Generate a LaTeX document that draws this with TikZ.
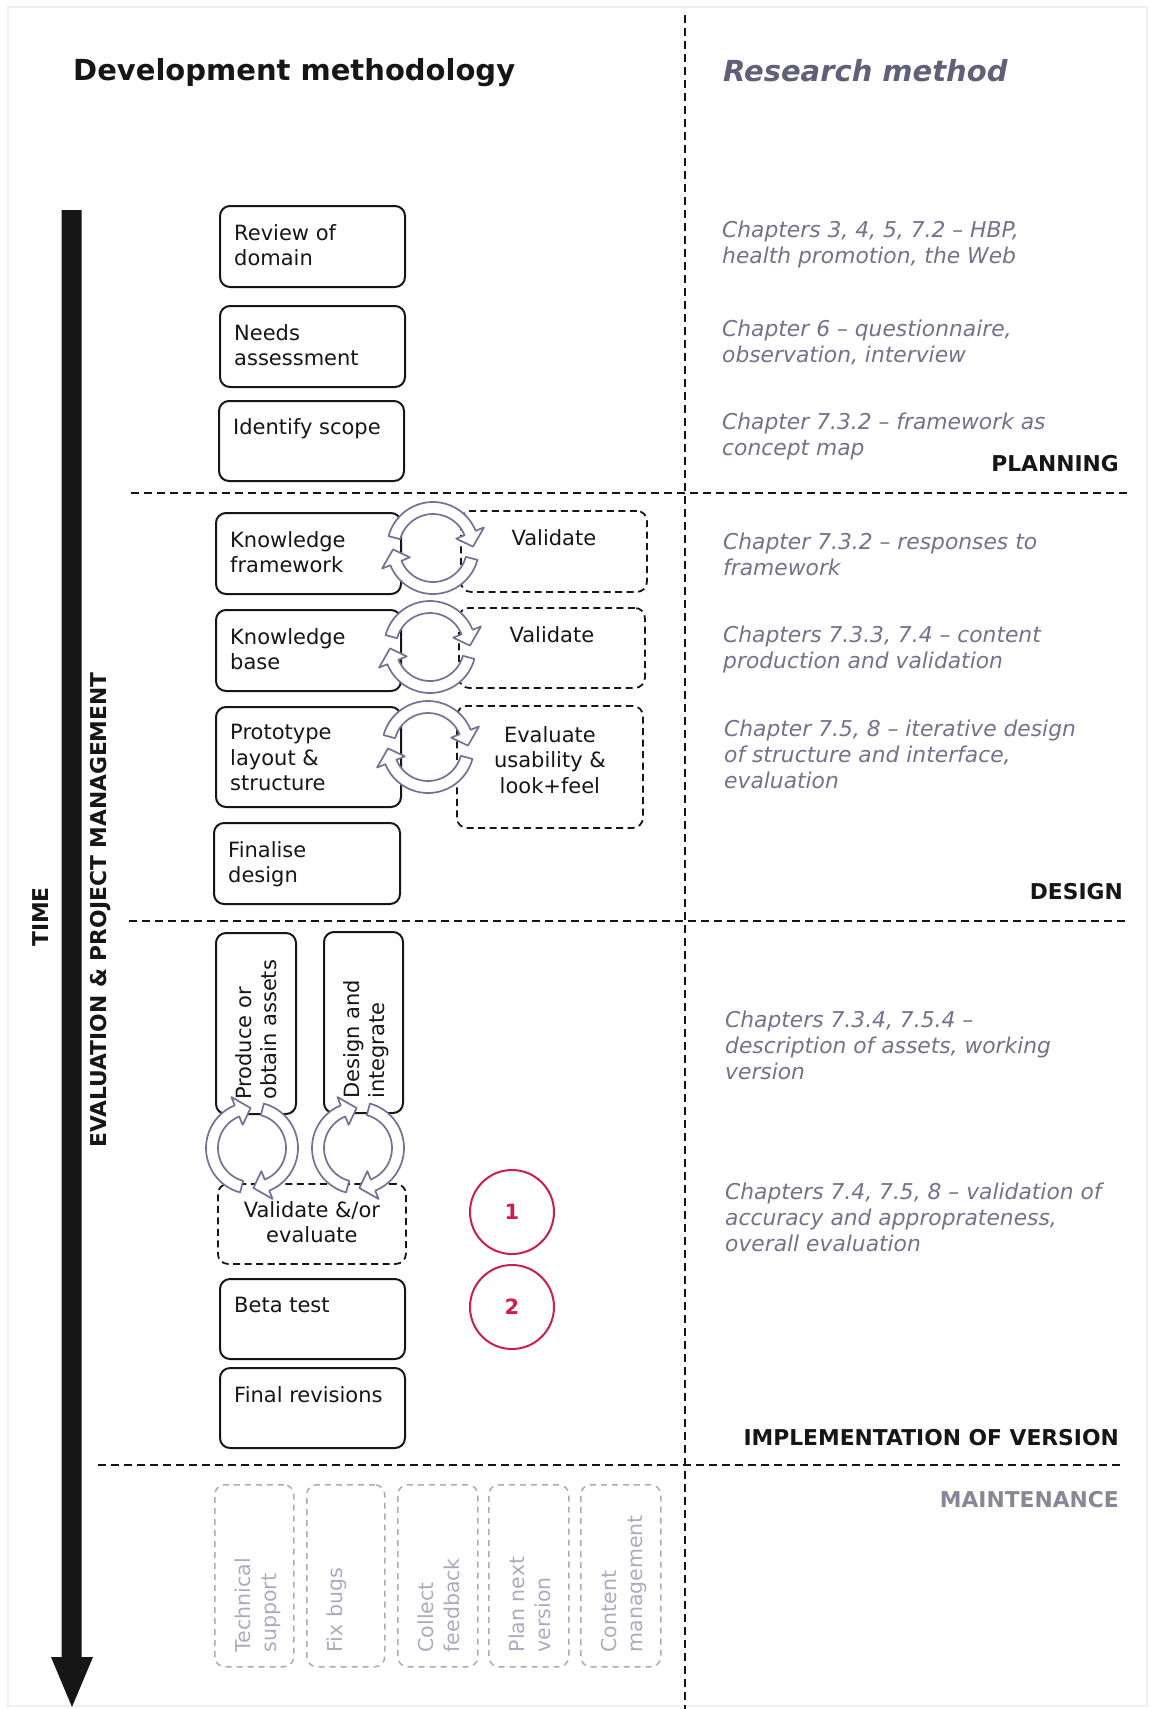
\documentclass[tikz,border=0pt]{standalone}
\usepackage{fontspec}
\setmainfont{DejaVu Sans}
\usetikzlibrary{calc}

\definecolor{ink}{RGB}{22,22,22}
\definecolor{chap}{RGB}{116,113,140}
\definecolor{rmhead}{RGB}{98,95,120}
\definecolor{loopc}{RGB}{118,112,150}
\definecolor{maint}{RGB}{172,170,190}
\definecolor{mainthead}{RGB}{135,135,150}
\definecolor{badgered}{RGB}{208,30,75}

\tikzset{
  heading/.style={inner sep=0pt, text=ink, font=\fontsize{29}{34}\selectfont\bfseries},
  phase/.style={inner sep=0pt, text=ink, font=\fontsize{21.8}{26}\selectfont\bfseries},
  sep/.style={draw=ink, line width=2pt, dash pattern=on 8pt off 5pt},
  stagebox/.style={draw=ink, line width=2pt, rounded corners=10pt, inner sep=0pt, anchor=north west},
  checkbox/.style={stagebox, line width=1.8pt, dash pattern=on 7pt off 4.5pt},
  maintbox/.style={draw=maint, line width=1.5pt, dash pattern=on 6pt off 5pt, rounded corners=10pt, inner sep=0pt, anchor=north west},
  boxtxt/.style={inner sep=0pt, text=ink, align=left, anchor=north west, font=\fontsize{21}{25.5}\selectfont},
  midtxt/.style={boxtxt, align=center, anchor=north},
  sidetxt/.style={boxtxt, rotate=90},
  mainttxt/.style={sidetxt, text=maint, font=\fontsize{20.5}{26}\selectfont},
  chaptxt/.style={inner sep=0pt, text=chap, align=left, anchor=north west, font=\fontsize{21.8}{26}\selectfont\itshape},
  badge/.style={circle, draw=badgered, line width=2pt, minimum size=84pt, inner sep=0pt, text=badgered, font=\fontsize{21}{25}\selectfont\bfseries},
  loopline/.style={draw=loopc, fill=white, line width=1.7pt, line join=round},
  loopicon/.pic={
    \filldraw[loopline] (165:46pt) arc[start angle=165, end angle=22, radius=46pt]
      -- (22:55pt) -- (2:40pt) -- (22:25pt) -- (22:34pt)
      arc[start angle=22, end angle=165, radius=34pt] -- cycle;
    \filldraw[loopline] (-15:46pt) arc[start angle=-15, end angle=-158, radius=46pt]
      -- (-158:55pt) -- (-178:40pt) -- (-158:25pt) -- (-158:34pt)
      arc[start angle=-158, end angle=-15, radius=34pt] -- cycle;
  }
}

\begin{document}
\begin{tikzpicture}[x=1pt, y=-1pt]
\useasboundingbox (0,0) rectangle (1150,1709);
\fill[white] (0,0) rectangle (1150,1709);
\draw[gray!12, line width=1.5pt] (8,7) rectangle (1147,1706);

% column headings
\node[heading, anchor=base west] (devtitle) at (73,80) {Development methodology};
\node[heading, anchor=base west, text=rmhead, font=\fontsize{29}{34}\selectfont\bfseries\itshape] (restitle) at (723,81) {Research method};

% column and phase separators
\draw[sep] (685,15) -- (685,1709);
\draw[sep] (131,493) -- (1128,493);
\draw[sep] (129,921) -- (1125,921);
\draw[sep] (98,1465) -- (1123,1465);

% time axis
\fill[ink] (61.5,210) -- (81.5,210) -- (81.5,1657) -- (93,1657) -- (72,1707) -- (51,1657) -- (61.5,1657) -- cycle;
\node[phase, rotate=90] (time) at (41,917) {TIME};
\node[phase, rotate=90] (evalpm) at (101,910) {EVALUATION \& PROJECT MANAGEMENT};

% phase names
\node[phase, anchor=base east] (planning) at (1119,471) {PLANNING};
\node[phase, anchor=base east] (design) at (1123,899) {DESIGN};
\node[phase, anchor=base east] (impl) at (1119,1445) {IMPLEMENTATION OF VERSION};
\node[phase, anchor=base east, text=mainthead] (maintlabel) at (1119,1507) {MAINTENANCE};

% planning
\node[stagebox, minimum width=185pt, minimum height=81pt] (rev) at (219,205) {};
\node[boxtxt] (rev-t) at ($(rev.north west)+(15,19)$) {Review of\\domain};
\node[stagebox, minimum width=185pt, minimum height=81pt] (need) at (219,305) {};
\node[boxtxt] (need-t) at ($(need.north west)+(15,19)$) {Needs\\assessment};
\node[stagebox, minimum width=185pt, minimum height=80pt] (scope) at (218,400) {};
\node[boxtxt] (scope-t) at ($(scope.north west)+(15,18)$) {Identify scope};

% design
\node[stagebox, minimum width=185pt, minimum height=81pt] (kf) at (215,512) {};
\node[boxtxt] (kf-t) at ($(kf.north west)+(15,19)$) {Knowledge\\framework};
\node[checkbox, minimum width=186pt, minimum height=81pt] (val1) at (460,510) {};
\node[midtxt] (val1-t) at ($(val1.north)+(0,19)$) {Validate};

\node[stagebox, minimum width=185pt, minimum height=81pt] (kb) at (215,609) {};
\node[boxtxt] (kb-t) at ($(kb.north west)+(15,19)$) {Knowledge\\base};
\node[checkbox, minimum width=186pt, minimum height=80pt] (val2) at (458,607) {};
\node[midtxt] (val2-t) at ($(val2.north)+(0,19)$) {Validate};

\node[stagebox, minimum width=185pt, minimum height=100pt] (proto) at (215,706) {};
\node[boxtxt] (proto-t) at ($(proto.north west)+(15,18)$) {Prototype\\layout \&\\structure};
\node[checkbox, minimum width=186pt, minimum height=122pt] (evalu) at (456,705) {};
\node[midtxt] (evalu-t) at ($(evalu.north)+(0,21)$) {Evaluate\\usability \&\\look+feel};

\node[stagebox, minimum width=186pt, minimum height=81pt] (fin) at (213,822) {};
\node[boxtxt] (fin-t) at ($(fin.north west)+(15,19)$) {Finalise\\design};

\pic at (433,548) {loopicon};
\pic at (430,647) {loopicon};
\pic at (428,747) {loopicon};

% implementation
\node[stagebox, minimum width=80pt, minimum height=181pt] (prod) at (215,932) {};
\node[sidetxt] (prod-t) at ($(prod.south west)+(20,-15)$) {Produce or\\obtain assets};
\node[stagebox, minimum width=79pt, minimum height=181pt] (desi) at (323,931) {};
\node[sidetxt] (desi-t) at ($(desi.south west)+(20,-15)$) {Design and\\integrate};
\node[checkbox, minimum width=188pt, minimum height=80pt] (valev) at (217,1183) {};
\node[midtxt] (valev-t) at ($(valev.north)+(0,18)$) {Validate \&/or\\evaluate};
\node[stagebox, minimum width=185pt, minimum height=80pt] (beta) at (219,1278) {};
\node[boxtxt] (beta-t) at ($(beta.north west)+(15,19)$) {Beta test};
\node[stagebox, minimum width=185pt, minimum height=80pt] (finrev) at (219,1367) {};
\node[boxtxt] (finrev-t) at ($(finrev.north west)+(15,19)$) {Final revisions};

\pic[rotate=90] at (252,1148) {loopicon};
\pic[rotate=90] at (358,1148) {loopicon};

\node[badge] (b1) at (512,1212) {1};
\node[badge] (b2) at (512,1307) {2};

% maintenance
\node[maintbox, minimum width=79pt, minimum height=182pt] (m1) at (214,1484) {};
\node[mainttxt] (m1-t) at ($(m1.south west)+(21,-15)$) {Technical\\support};
\node[maintbox, minimum width=78pt, minimum height=182pt] (m2) at (306,1484) {};
\node[mainttxt] (m2-t) at ($(m2.south west)+(21,-15)$) {Fix bugs};
\node[maintbox, minimum width=80pt, minimum height=182pt] (m3) at (397,1484) {};
\node[mainttxt] (m3-t) at ($(m3.south west)+(21,-15)$) {Collect\\feedback};
\node[maintbox, minimum width=80pt, minimum height=182pt] (m4) at (488,1484) {};
\node[mainttxt] (m4-t) at ($(m4.south west)+(21,-15)$) {Plan next\\version};
\node[maintbox, minimum width=80pt, minimum height=182pt] (m5) at (580,1484) {};
\node[mainttxt] (m5-t) at ($(m5.south west)+(21,-15)$) {Content\\management};

% research method notes
\node[chaptxt] (c1) at (722,220.5) {Chapters 3, 4, 5, 7.2 – HBP,\\health promotion, the Web};
\node[chaptxt] (c2) at (722,319.5) {Chapter 6 – questionnaire,\\observation, interview};
\node[chaptxt] (c3) at (722,412.5) {Chapter 7.3.2 – framework as\\concept map};
\node[chaptxt] (c4) at (723,532.5) {Chapter 7.3.2 – responses to\\framework};
\node[chaptxt] (c5) at (723,625.5) {Chapters 7.3.3, 7.4 – content\\production and validation};
\node[chaptxt] (c6) at (724,719.5) {Chapter 7.5, 8 – iterative design\\of structure and interface,\\evaluation};
\node[chaptxt] (c7) at (725,1010.5) {Chapters 7.3.4, 7.5.4 –\\description of assets, working\\version};
\node[chaptxt] (c8) at (725,1182.5) {Chapters 7.4, 7.5, 8 – validation of\\accuracy and approprateness,\\overall evaluation};
\end{tikzpicture}
\end{document}
